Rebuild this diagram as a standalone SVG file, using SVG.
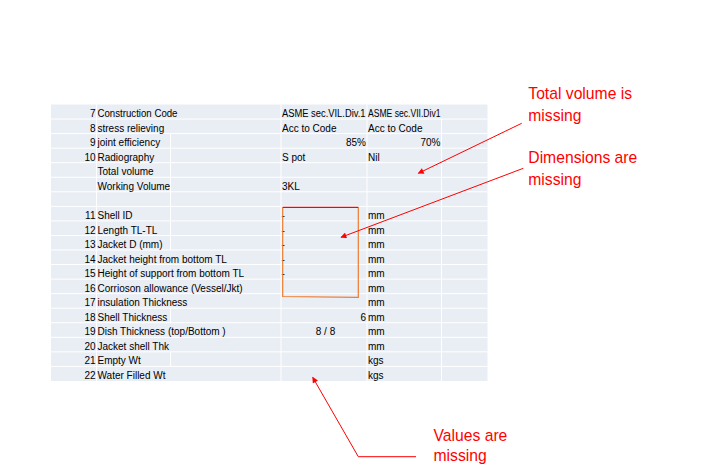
<svg xmlns="http://www.w3.org/2000/svg" width="715" height="476" viewBox="0 0 715 476">
<style>
.t{font-family:"Liberation Sans",Arial,sans-serif;font-size:10px;fill:#000}
.r{text-anchor:end}
.m{text-anchor:middle}
.g{stroke:#fff;stroke-width:1;fill:none}
.note{font-family:"Liberation Sans",Arial,sans-serif;font-size:15.7px;fill:#ff0000}
.con{stroke:#ff0000;stroke-width:1;fill:none}
</style>
<defs>
<marker id="ah" viewBox="0 0 10 10" refX="9" refY="5" markerWidth="7" markerHeight="6" markerUnits="userSpaceOnUse" orient="auto">
<path d="M0,0 L10,5 L0,10 Z" fill="#ff0000"/>
</marker>
</defs>
<rect width="715" height="476" fill="#fff"/>
<g id="table">
<rect x="51" y="104.5" width="436.5" height="276.5" fill="#e9edf4"/>
<g class="g">
<path d="M51,119.05H487.5M51,133.6H487.5M51,148.15H487.5M51,162.7H487.5M51,177.25H487.5M51,191.8H487.5M51,206.35H487.5M51,220.9H487.5M51,235.45H487.5M51,250H487.5M51,264.55H487.5M51,279.1H487.5M51,293.65H487.5M51,308.2H487.5M51,322.75H487.5M51,337.3H487.5M51,351.85H487.5M51,366.4H487.5"/>
<path d="M96.5,104.5V381M281,104.5V381M367,104.5V381M441.5,119.05V381M170.5,133.6V250M170.5,308.2V322.75M170.5,351.85V366.4"/>
</g>
<g class="t">
<text x="95.5" y="117.1" class="r">7</text><text x="97.5" y="117.1" textLength="80" lengthAdjust="spacingAndGlyphs">Construction Code</text><text x="282" y="117.1" textLength="83.5" lengthAdjust="spacingAndGlyphs">ASME sec.VIL.Div.1</text><text x="368" y="117.1" textLength="72.5" lengthAdjust="spacingAndGlyphs">ASME sec.VII.Div1</text>
<text x="95.5" y="131.65" class="r">8</text><text x="97.5" y="131.65">stress relieving</text><text x="282" y="131.65">Acc to Code</text><text x="368" y="131.65">Acc to Code</text>
<text x="95.5" y="146.2" class="r">9</text><text x="97.5" y="146.2">joint efficiency</text><text x="366" y="146.2" class="r">85%</text><text x="440.5" y="146.2" class="r">70%</text>
<text x="95.5" y="160.75" class="r">10</text><text x="97.5" y="160.75">Radiography</text><text x="282" y="160.75">S pot</text><text x="368" y="160.75">Nil</text>
<text x="97.5" y="175.3">Total volume</text>
<text x="97.5" y="189.85">Working Volume</text><text x="282" y="189.85">3KL</text>
<text x="95.5" y="218.95" class="r">11</text><text x="97.5" y="218.95">Shell ID</text><text x="281.5" y="218.95">-</text><text x="368" y="218.95">mm</text>
<text x="95.5" y="233.5" class="r">12</text><text x="97.5" y="233.5">Length TL-TL</text><text x="281.5" y="233.5">-</text><text x="368" y="233.5">mm</text>
<text x="95.5" y="248.05" class="r">13</text><text x="97.5" y="248.05">Jacket D (mm)</text><text x="281.5" y="248.05">-</text><text x="368" y="248.05">mm</text>
<text x="95.5" y="262.6" class="r">14</text><text x="97.5" y="262.6">Jacket height from bottom TL</text><text x="281.5" y="262.6">-</text><text x="368" y="262.6">mm</text>
<text x="95.5" y="277.15" class="r">15</text><text x="97.5" y="277.15">Height of support from bottom TL</text><text x="281.5" y="277.15">-</text><text x="368" y="277.15">mm</text>
<text x="95.5" y="291.7" class="r">16</text><text x="97.5" y="291.7">Corrioson allowance (Vessel/Jkt)</text><text x="368" y="291.7">mm</text>
<text x="95.5" y="306.25" class="r">17</text><text x="97.5" y="306.25">insulation Thickness</text><text x="368" y="306.25">mm</text>
<text x="95.5" y="320.8" class="r">18</text><text x="97.5" y="320.8">Shell Thickness</text><text x="366" y="320.8" class="r">6</text><text x="368" y="320.8">mm</text>
<text x="95.5" y="335.35" class="r">19</text><text x="97.5" y="335.35">Dish Thickness (top/Bottom )</text><text x="325.5" y="335.35" class="m">8 / 8</text><text x="368" y="335.35">mm</text>
<text x="95.5" y="349.9" class="r">20</text><text x="97.5" y="349.9">Jacket shell Thk</text><text x="368" y="349.9">mm</text>
<text x="95.5" y="364.45" class="r">21</text><text x="97.5" y="364.45">Empty Wt</text><text x="368" y="364.45">kgs</text>
<text x="95.5" y="379" class="r">22</text><text x="97.5" y="379">Water Filled Wt</text><text x="368" y="379">kgs</text>
</g>
</g>
<g id="highlight">
<path d="M282.7,207.3 L282.7,296.5 L358.3,297.3 L358.3,207.3" fill="none" stroke="#ed7d31" stroke-width="1.2"/>
<path d="M282.7,207.3 L358.3,207.3" fill="none" stroke="#ff0000" stroke-width="1.2"/>
</g>
<g id="note-total-volume">
<text class="note" x="528.3" y="99.3">Total volume is</text>
<text class="note" x="528.3" y="121">missing</text>
</g>
<g id="note-dimensions">
<text class="note" x="528.3" y="163.3">Dimensions are</text>
<text class="note" x="528.3" y="184.5">missing</text>
</g>
<g id="note-values">
<text class="note" x="433.5" y="440.7">Values are</text>
<text class="note" x="433.5" y="460.5">missing</text>
</g>
<g id="connectors">
<path class="con" d="M521.7,123.3 L418.3,173.3" marker-end="url(#ah)"/>
<path class="con" d="M523.3,168.3 L341,237.3" marker-end="url(#ah)"/>
<path class="con" d="M416,456.7 L358.3,456.7 L312.7,377.3" marker-end="url(#ah)"/>
</g>
</svg>
